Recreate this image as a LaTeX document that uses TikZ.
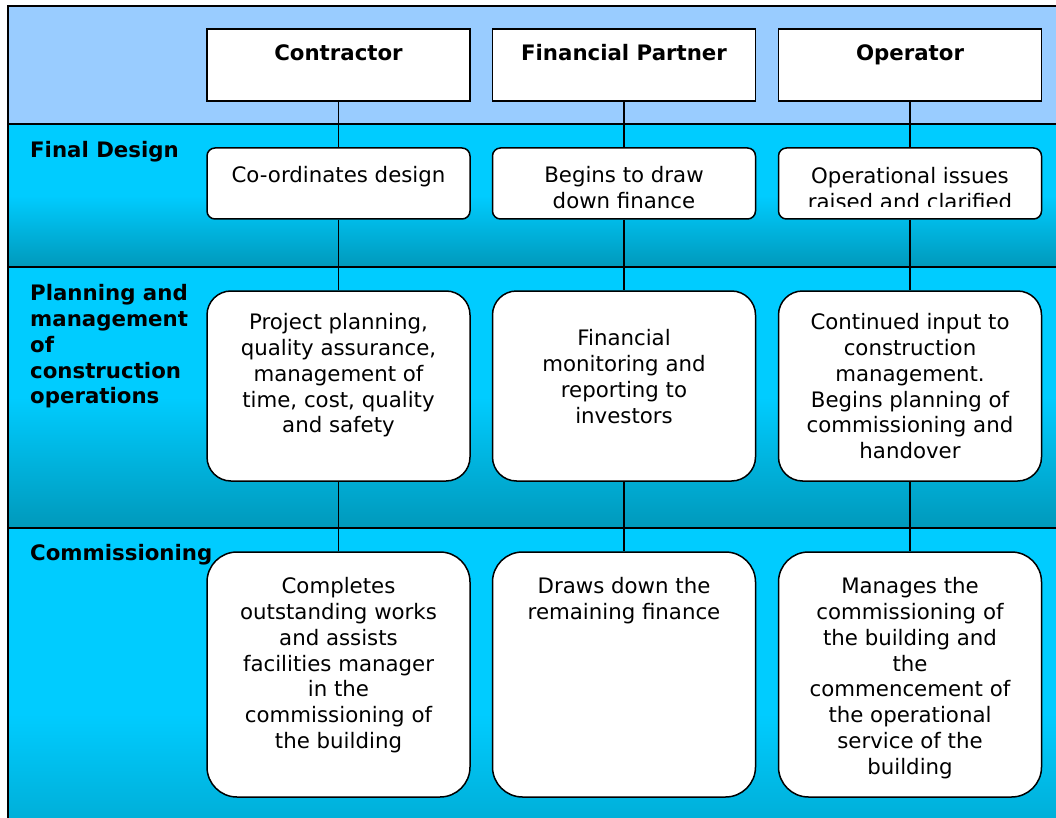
\documentclass[tikz,border=0pt]{standalone}
\usepackage{fontspec}
\setmainfont{DejaVu Sans}
\definecolor{hdr}{HTML}{99CCFF}
\definecolor{bandL}{HTML}{00CCFF}
\definecolor{bandD}{HTML}{0099BB}
\begin{document}
\begin{tikzpicture}[x=1pt,y=-1pt,
  hbox/.style={draw, line width=1.5pt, fill=white, minimum width=263pt, minimum height=72pt, inner sep=0pt},
  rbox/.style={draw, line width=1.5pt, fill=white, minimum width=263pt, inner sep=0pt, rounded corners=#1},
  txt/.style={font=\fontsize{21.3}{25.9}\selectfont, align=center, anchor=north, inner sep=0pt},
  htxt/.style={font=\fontsize{21.3}{25.9}\selectfont\bfseries, align=center, anchor=north, inner sep=0pt},
  lbl/.style={font=\fontsize{21.3}{25.9}\selectfont\bfseries, align=left, anchor=north west, inner sep=0pt},
  conn/.style={line width=1.5pt},
  sep/.style={line width=1.5pt},
  band/.style={top color=bandL, bottom color=bandD, middle color=bandL}]
\useasboundingbox (0,0) rectangle (1056,818);
\clip (0,0) rectangle (1056,818);
% bands
\fill[hdr] (8,6) rectangle (1070,124);
\shade[band] (8,124) rectangle (1070,267);
\shade[band] (8,267) rectangle (1070,528);
\shade[band] (8,528) rectangle (1070,900);
\draw[sep] (8,124) -- (1070,124);
\draw[sep] (8,267) -- (1070,267);
\draw[sep] (8,528) -- (1070,528);
\draw[sep] (1070,6) -- (8,6) -- (8,830);
% header boxes
\node[hbox] (h1) at (338.5,65) {};
\node[hbox] (h2) at (624,65) {};
\node[hbox] (h3) at (910,65) {};
% final design
\node[rbox=8pt, minimum height=71pt] (f1) at (338.5,183.5) {};
\node[rbox=8pt, minimum height=71pt] (f2) at (624,183.5) {};
\node[rbox=8pt, minimum height=71pt] (f3) at (910,183.5) {};
% planning
\node[rbox=24pt, minimum height=190pt] (p1) at (338.5,386) {};
\node[rbox=24pt, minimum height=190pt] (p2) at (624,386) {};
\node[rbox=24pt, minimum height=190pt] (p3) at (910,386) {};
% commissioning
\node[rbox=30pt, minimum height=245pt] (c1) at (338.5,674.5) {};
\node[rbox=30pt, minimum height=245pt] (c2) at (624,674.5) {};
\node[rbox=30pt, minimum height=245pt] (c3) at (910,674.5) {};
% connectors
\foreach \i in {1,2,3} {
  \draw[conn] (h\i.south) -- (f\i.north);
  \draw[conn] (f\i.south) -- (p\i.north);
  \draw[conn] (p\i.south) -- (c\i.north);
}
% header texts
\node[htxt] (t1) at (338.5,44) {Contractor};
\node[htxt] (t2) at (624,44) {Financial Partner};
\node[htxt] (t3) at (910,44) {Operator};
% final design texts
\node[txt] (ft1) at (338.5,166) {Co-ordinates design};
\node[txt] (ft2) at (624,166) {Begins to draw\\down finance};
\begin{scope}
\clip (779,149) rectangle (1041,207);
\node[txt] (ft3) at (910,167) {Operational issues\\raised and clarified};
\end{scope}
% planning texts
\node[txt] (pt1) at (338.5,313) {Project planning,\\quality assurance,\\management of\\time, cost, quality\\and safety};
\node[txt] (pt2) at (624,329) {Financial\\monitoring and\\reporting to\\investors};
\node[txt] (pt3) at (910,313) {Continued input to\\construction\\management.\\Begins planning of\\commissioning and\\handover};
% commissioning texts
\node[txt] (ct1) at (338.5,577) {Completes\\outstanding works\\and assists\\facilities manager\\in the\\commissioning of\\the building};
\node[txt] (ct2) at (624,577) {Draws down the\\remaining finance};
\node[txt] (ct3) at (910,577) {Manages the\\commissioning of\\the building and\\the\\commencement of\\the operational\\service of the\\building};
% row labels
\node[lbl] (l1) at (30,141) {Final Design};
\node[lbl] (l2) at (30,284) {Planning and\\management\\of\\construction\\operations};
\node[lbl] (l3) at (30,544) {Commissioning};
\end{tikzpicture}
\end{document}
